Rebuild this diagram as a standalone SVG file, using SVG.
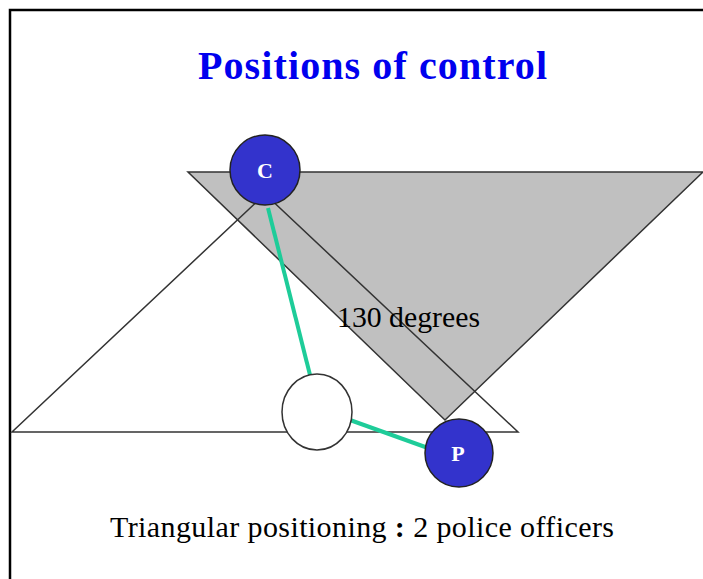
<svg xmlns="http://www.w3.org/2000/svg" width="703" height="579" viewBox="0 0 703 579">
<style>
.tri{stroke:#333;stroke-width:1.5}
.link{stroke:#1ECC99;stroke-width:4;fill:none}
.node{fill:#3333CC;stroke:#222;stroke-width:1.5}
.lbl{font-family:"Liberation Serif",serif;font-weight:bold;fill:#fff;font-size:22px;text-anchor:middle}
.txt{font-family:"Liberation Serif",serif;fill:#000}
</style>
<rect x="0" y="0" width="703" height="579" fill="#fff"/>
<path d="M10,579 V10 H703" fill="none" stroke="#000" stroke-width="2.5"/>
<text x="198" y="79" class="txt" style="font-size:40px;font-weight:bold;fill:#0000EE" textLength="349" lengthAdjust="spacing">Positions of control</text>
<g id="gray-triangle"><polygon class="tri" points="188,172 703,172 445,420" fill="#C0C0C0"/></g>
<g id="white-triangle"><polygon class="tri" points="12,432 518,432 265,194" fill="none"/></g>
<g id="connectors">
<line class="link" x1="268" y1="208" x2="310" y2="375"/>
<line class="link" x1="350" y1="420" x2="428" y2="448"/>
</g>
<g id="node-C"><circle class="node" cx="265" cy="170" r="35"/><text class="lbl" x="265" y="178">C</text></g>
<g id="node-empty"><ellipse cx="317" cy="412" rx="35" ry="38" fill="#fff" stroke="#333" stroke-width="1.5"/></g>
<g id="node-P"><circle class="node" cx="459" cy="453" r="34"/><text class="lbl" x="458" y="461">P</text></g>
<text class="txt" x="337" y="327" style="font-size:29px" textLength="143" lengthAdjust="spacingAndGlyphs">130 degrees</text>
<text class="txt" x="110" y="537" style="font-size:30px" textLength="504" lengthAdjust="spacing">Triangular positioning <tspan font-weight="bold">:</tspan> 2 police officers</text>
</svg>
